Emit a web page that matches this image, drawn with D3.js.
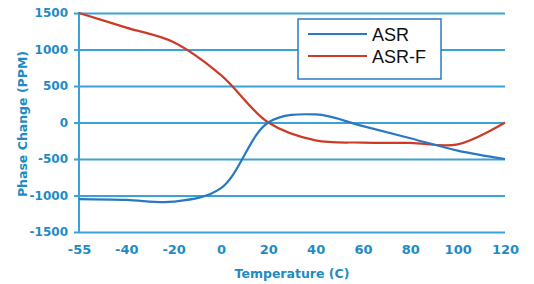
<!DOCTYPE html>
<html>
<head>
<meta charset="utf-8">
<script src="https://cdn.jsdelivr.net/npm/d3@7"></script>
<style>
  body { margin: 0; background: #fff; }
  .tick text { font-family: "DejaVu Sans", sans-serif; font-weight: 700; }
</style>
</head>
<body>
<div id="chart"></div>
<script>
// temperatures are categories (equal spacing on the axis)
var temps = ["-55", "-40", "-20", "0", "20", "40", "60", "80", "100", "120"];
var asr = [-1050, -1060, -1085, -900, 0, 110, -50, -215, -385, -500];
var asrF = [1500, 1300, 1100, 650, 0, -245, -275, -280, -300, 0];
var yTicks = [-1500, -1000, -500, 0, 500, 1000, 1500];

var width = 534, height = 284;
var margin = {top: 13, right: 29, bottom: 52, left: 79};
var axisColor = "#1e8bc4";
var gridColor = "#3aa2d6";
var labelFont = "DejaVu Sans, sans-serif";

var svg = d3.select("#chart").append("svg")
    .attr("width", width)
    .attr("height", height);

var x = d3.scalePoint()
    .domain(temps)
    .range([margin.left, width - margin.right]);

var y = d3.scaleLinear()
    .domain([-1500, 1500])
    .range([height - margin.bottom, margin.top]);

// gridlines + y labels
var yAxis = svg.append("g")
    .attr("transform", `translate(${margin.left},0)`)
    .call(d3.axisLeft(y)
        .tickValues(yTicks)
        .tickFormat(function(d) { return String(d); })
        .tickSize(-(width - margin.right - margin.left))
        .tickSizeOuter(0)
        .tickPadding(11));
yAxis.select(".domain").remove();
yAxis.selectAll(".tick line")
    .attr("x1", -5)
    .attr("stroke", gridColor)
    .attr("stroke-width", 2);
yAxis.selectAll(".tick text")
    .attr("fill", axisColor)
    .attr("font-size", 12);

// left axis line
svg.append("line")
    .attr("x1", margin.left).attr("x2", margin.left)
    .attr("y1", y(1500) - 1).attr("y2", y(-1500) + 1)
    .attr("stroke", gridColor)
    .attr("stroke-width", 2);

// x labels
var xAxis = svg.append("g")
    .attr("transform", `translate(0,${height - margin.bottom})`)
    .call(d3.axisBottom(x).tickSize(0).tickPadding(13));
xAxis.select(".domain").remove();
xAxis.selectAll(".tick text")
    .attr("fill", axisColor)
    .attr("font-size", 13);

// axis titles
svg.append("text")
    .attr("x", (margin.left + width - margin.right) / 2)
    .attr("y", 278)
    .attr("text-anchor", "middle")
    .attr("fill", axisColor)
    .attr("font-family", labelFont)
    .attr("font-weight", 700)
    .attr("font-size", 12.5)
    .text("Temperature (C)");

svg.append("text")
    .attr("transform", "translate(27,124) rotate(-90)")
    .attr("text-anchor", "middle")
    .attr("fill", axisColor)
    .attr("font-family", labelFont)
    .attr("font-weight", 700)
    .attr("font-size", 12.5)
    .text("Phase Change (PPM)");

// series
var line = d3.line()
    .x(function(d, i) { return x(temps[i]); })
    .y(function(d) { return y(d); })
    .curve(d3.curveCatmullRom.alpha(0.5));

svg.append("path")
    .datum(asrF)
    .attr("fill", "none")
    .attr("stroke", "#cd3a27")
    .attr("stroke-width", 2.2)
    .attr("d", line);

svg.append("path")
    .datum(asr)
    .attr("fill", "none")
    .attr("stroke", "#2a78c3")
    .attr("stroke-width", 2.2)
    .attr("d", line);

// legend
var legend = svg.append("g");
legend.append("rect")
    .attr("x", 298).attr("y", 19)
    .attr("width", 143).attr("height", 60)
    .attr("fill", "#fff")
    .attr("stroke", "#2a7ac9")
    .attr("stroke-width", 1.5);
var legendItems = [
    {name: "ASR", color: "#2a78c3"},
    {name: "ASR-F", color: "#cd3a27"}
];
legendItems.forEach(function(d, i) {
    var ly = 34 + i * 22;
    legend.append("line")
        .attr("x1", 308).attr("x2", 367)
        .attr("y1", ly).attr("y2", ly)
        .attr("stroke", d.color)
        .attr("stroke-width", 2.2);
    legend.append("text")
        .attr("x", 372)
        .attr("y", ly + 7)
        .attr("font-family", "Liberation Sans, Arial, sans-serif")
        .attr("font-size", 18)
        .attr("fill", "#111")
        .text(d.name);
});
</script>
</body>
</html>
